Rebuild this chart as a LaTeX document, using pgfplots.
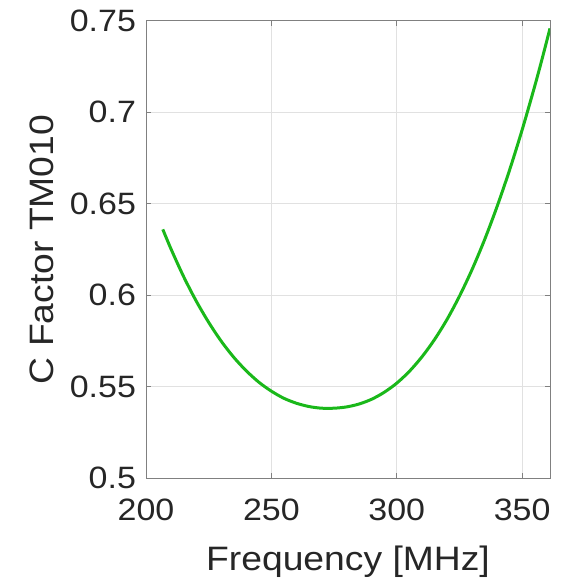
\documentclass[border=0pt]{standalone}
\usepackage{fontspec}
\setmainfont{Liberation Sans}[FakeStretch=1.1]
\usepackage{pgfplots}
\pgfplotsset{compat=1.18}
\definecolor{curvegreen}{RGB}{26,184,26}
\definecolor{txtgray}{RGB}{38,38,38}
\definecolor{boxgray}{RGB}{128,128,128}
\definecolor{gridgray}{RGB}{225,225,225}
\begin{document}
\begin{tikzpicture}
\begin{axis}[
  scale only axis,
  width=202bp, height=228.8bp,
  xmin=200, xmax=361.1,
  ymin=0.5, ymax=0.75,
  xtick={200,250,300,350},
  ytick={0.5,0.55,0.6,0.65,0.7,0.75},
  yticklabels={0.5,0.55,0.6,0.65,0.7,0.75},
  grid=major,
  grid style={gridgray, line width=0.4pt},
  axis line style={boxgray, line width=0.5pt},
  tick style={boxgray, line width=0.5pt},
  tick align=inside,
  major tick length=2.5bp,
  /pgf/number format/assume math mode=true,
  ticklabel style={font=\fontsize{15.5}{17}\selectfont, text=txtgray},
  xticklabel style={yshift=-7bp},
  yticklabel style={xshift=-1.5bp},
  xlabel={Frequency [MHz]},
  ylabel={C Factor TM010},
  label style={font=\fontsize{17}{20}\selectfont, text=txtgray},
  xlabel style={at={(axis description cs:0.5,0)}, anchor=center, yshift=-41.5bp},
  ylabel style={at={(axis description cs:-0.257,0.5)}, anchor=center},
]
\addplot[curvegreen, line width=1.5bp, smooth] coordinates {
  (206.7,0.6360) (210,0.6252) (215,0.6102) (220,0.5969) (225,0.5852)
  (230,0.5749) (235,0.5661) (240,0.5587) (245,0.5525) (250,0.5476)
  (255,0.5437) (260,0.5410) (265,0.5392) (270,0.5383) (275,0.5383)
  (280,0.5390) (285,0.5406) (290,0.5432) (295,0.5470) (300,0.5520)
  (305,0.5584) (310,0.5663) (315,0.5757) (320,0.5867) (325,0.5995)
  (330,0.6140) (335,0.6303) (340,0.6485) (345,0.6685) (350,0.6904)
  (355,0.7142) (358,0.7294) (361.1,0.7458)
};
\end{axis}
\pgfresetboundingbox
\useasboundingbox (-73bp,-50.85bp) rectangle (217bp,239.15bp);
\end{tikzpicture}
\end{document}
